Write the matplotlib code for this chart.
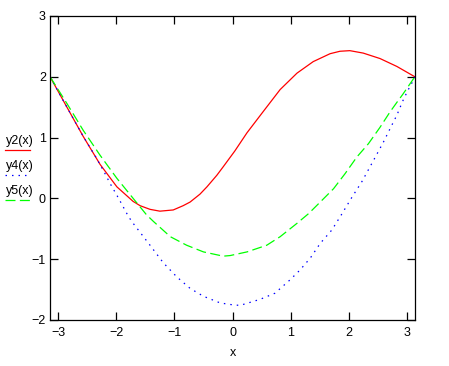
import matplotlib.pyplot as plt
from matplotlib.lines import Line2D

plt.rcParams['font.family'] = ['Liberation Sans', 'DejaVu Sans']

# values
x2 = [-3.14, -2.85, -2.57, -2.28, -1.99, -1.71, -1.59, -1.42, -1.25, -1.02, -0.85, -0.73,
      -0.56, -0.44, -0.27, -0.16, 0.04, 0.25, 0.53, 0.82, 1.11, 1.39, 1.68, 1.85, 2.02,
      2.25, 2.54, 2.83, 3.14]
y2 = [2.0, 1.50, 1.02, 0.56, 0.19, -0.05, -0.12, -0.18, -0.21, -0.19, -0.12, -0.06,
      0.07, 0.19, 0.38, 0.52, 0.78, 1.08, 1.43, 1.79, 2.06, 2.25, 2.38, 2.42, 2.43,
      2.39, 2.30, 2.17, 2.0]

x4 = [-3.14, -2.85, -2.57, -2.34, -2.19, -2.11, -1.96, -1.79, -1.71, -1.42, -1.19, -0.96,
      -0.73, -0.50, -0.21, 0.0, 0.13, 0.475, 0.73, 0.99, 1.16, 1.34, 1.51, 1.71, 1.88,
      2.05, 2.23, 2.43, 2.60, 2.74, 2.83, 2.93, 3.01, 3.10, 3.14]
y4 = [2.0, 1.50, 1.02, 0.66, 0.40, 0.25, 0.0, -0.30, -0.41, -0.77, -1.06, -1.29,
      -1.48, -1.61, -1.72, -1.75, -1.76, -1.66, -1.56, -1.34, -1.18, -0.98, -0.74, -0.52, -0.26,
      0.01, 0.28, 0.63, 0.93, 1.20, 1.37, 1.60, 1.76, 1.92, 2.0]

x5 = [-3.14, -2.85, -2.57, -2.28, -1.99, -1.71, -1.48, -1.36, -1.07, -0.79, -0.50, -0.16,
      -0.04, 0.25, 0.59, 0.82, 1.11, 1.31, 1.51, 1.74, 1.94, 2.14, 2.34, 2.54, 2.71, 2.83,
      2.93, 3.11, 3.14]
y5 = [2.0, 1.56, 1.12, 0.71, 0.33, 0.0, -0.27, -0.38, -0.63, -0.77, -0.88, -0.95,
      -0.94, -0.88, -0.77, -0.63, -0.41, -0.25, -0.06, 0.16, 0.41, 0.68, 0.90, 1.17, 1.42, 1.58,
      1.71, 1.96, 2.0]

labels = ['y2(x)', 'y4(x)', 'y5(x)']
xticks = [-3, -2, -1, 0, 1, 2, 3]
yticks = [-2, -1, 0, 1, 2, 3]

W, H = 449, 366
fig = plt.figure(figsize=(W / 100, H / 100), dpi=100)
ax = fig.add_axes([50 / W, (H - 320) / H, 365 / W, 304 / H])

ax.plot(x2, y2, color='#ff0000', lw=0.9)
ax.plot(x4, y4, color='#0000ff', lw=0.9, dashes=[1.2, 4])
ax.plot(x5, y5, color='#00ff00', lw=0.9, dashes=[8, 3.5])

ax.set_xlim(-3.1416, 3.1416)
ax.set_ylim(-2, 3)
ax.set_xticks(xticks)
ax.set_yticks(yticks)
ax.tick_params(direction='in', length=5.8, width=0.9, top=True, right=True,
               labelsize=9, colors='black')
ax.tick_params(axis='x', pad=5)
ax.tick_params(axis='y', pad=3)
for s in ax.spines.values():
    s.set_linewidth(0.9)
ax.set_xlabel('x', fontsize=9, labelpad=6)

# legend on the left outside the axes
styles = [dict(color='#ff0000'), dict(color='#0000ff', dashes=[1.2, 4]),
          dict(color='#00ff00', dashes=[8, 3.5])]
for i, (lab, st) in enumerate(zip(labels, styles)):
    ty = 144 + 25 * i
    fig.text(6 / W, (H - ty) / H, lab, fontsize=9, va='baseline', ha='left')
    ly = (H - (ty + 6)) / H
    fig.add_artist(Line2D([5 / W, 30 / W], [ly, ly], lw=0.9, **st))

fig.savefig('out.png', dpi=100)
